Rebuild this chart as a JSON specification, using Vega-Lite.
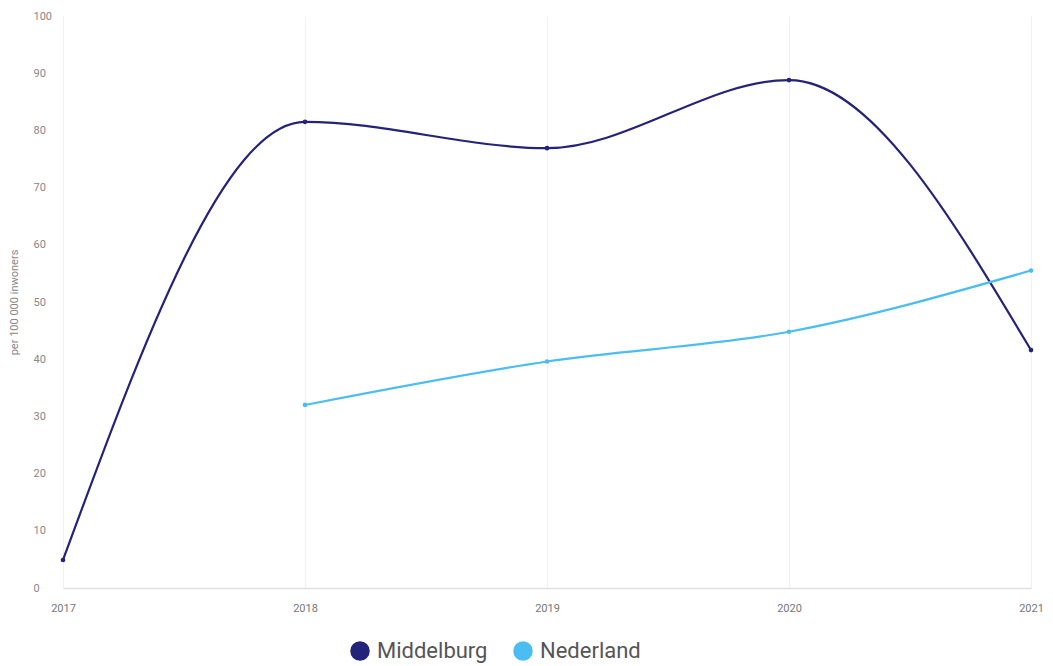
{
  "$schema": "https://vega.github.io/schema/vega-lite/v6.json",
  "width": 968,
  "height": 572,
  "autosize": {"type": "none"},
  "padding": {"left": 63, "top": 16, "right": 22, "bottom": 78},
  "background": "white",
  "config": {
    "view": {"stroke": null},
    "font": "Roboto"
  },
  "data": {
    "values": [
      {"jaar": 2017, "gebied": "Middelburg", "waarde": 4.9},
      {"jaar": 2018, "gebied": "Middelburg", "waarde": 81.5},
      {"jaar": 2019, "gebied": "Middelburg", "waarde": 76.9},
      {"jaar": 2020, "gebied": "Middelburg", "waarde": 88.8},
      {"jaar": 2021, "gebied": "Middelburg", "waarde": 41.6},
      {"jaar": 2018, "gebied": "Nederland", "waarde": 32.0},
      {"jaar": 2019, "gebied": "Nederland", "waarde": 39.6},
      {"jaar": 2020, "gebied": "Nederland", "waarde": 44.8},
      {"jaar": 2021, "gebied": "Nederland", "waarde": 55.5}
    ]
  },
  "encoding": {
    "x": {
      "field": "jaar",
      "type": "quantitative",
      "scale": {"domain": [2017, 2021], "nice": false, "zero": false},
      "axis": {
        "values": [2017, 2018, 2019, 2020, 2021],
        "format": "d",
        "title": null,
        "grid": true,
        "gridColor": "#f0f0f0",
        "ticks": false,
        "labelFlush": false,
        "domainColor": "#e0e0e0",
        "domainWidth": 1.5,
        "labelColor": "#777",
        "labelFontSize": 11,
        "labelPadding": 14
      }
    },
    "y": {
      "field": "waarde",
      "type": "quantitative",
      "scale": {"domain": [0, 100], "nice": false},
      "axis": {
        "values": [0, 10, 20, 30, 40, 50, 60, 70, 80, 90, 100],
        "title": "per 100 000 inwoners",
        "titleFontSize": 11,
        "titleFontWeight": "normal",
        "titleColor": "#888",
        "titlePadding": 14,
        "grid": false,
        "ticks": false,
        "domain": false,
        "labelColor": "#888",
        "labelFontSize": 11,
        "labelPadding": 30,
        "labelAlign": "left",
        "labelBaseline": "middle"
      }
    },
    "color": {
      "field": "gebied",
      "type": "nominal",
      "scale": {"domain": ["Middelburg", "Nederland"], "range": ["#24237a", "#4cbdf2"]},
      "legend": {
        "title": null,
        "orient": "none",
        "direction": "horizontal",
        "legendX": 286,
        "legendY": 624,
        "symbolType": "circle",
        "symbolSize": 380,
        "symbolStrokeWidth": 0,
        "labelFontSize": 22,
        "labelColor": "#555",
        "columnPadding": 24,
        "labelOffset": 6
      }
    }
  },
  "layer": [
    {
      "mark": {"type": "line", "interpolate": "monotone", "strokeWidth": 2.2}
    },
    {
      "mark": {"type": "point", "filled": true, "size": 22, "opacity": 1, "color": "#111133"}
    }
  ]
}
